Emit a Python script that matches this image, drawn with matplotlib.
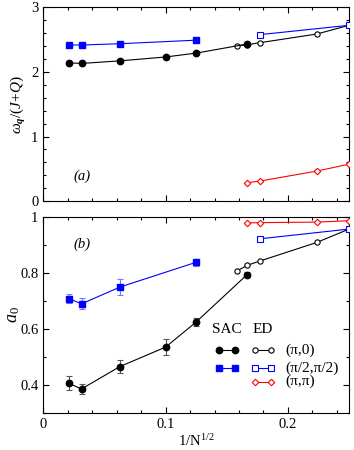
import matplotlib
matplotlib.use("Agg")
import matplotlib.pyplot as plt
from matplotlib.ticker import MultipleLocator
import numpy as np

plt.rcParams['font.family'] = ['Liberation Serif', 'DejaVu Serif']
plt.rcParams['mathtext.fontset'] = 'custom'
plt.rcParams['mathtext.rm'] = 'Liberation Serif'
plt.rcParams['mathtext.it'] = 'Liberation Serif:italic'
plt.rcParams['mathtext.bf'] = 'Liberation Serif:bold:italic'

# ---------------- data ----------------
x_sac = [1/48, 1/32, 1/16, 1/10, 1/8, 1/6]
x_sac_b = [1/48, 1/32, 1/16, 1/8]
x_ed = [1/np.sqrt(40), 1/6, 1/np.sqrt(32), 1/np.sqrt(20), 1/4]
x_ed_b = [1/np.sqrt(32), 1/4]
x_ed_r = [1/6, 1/np.sqrt(32), 1/np.sqrt(20), 1/4]

# panel (a): omega_q/(J+Q)
w_sac_pi0 = [2.14, 2.13, 2.17, 2.23, 2.29, 2.43]
w_sac_pi2 = [2.415, 2.415, 2.435, 2.49]
w_ed_pi0 = [2.40, 2.42, 2.45, 2.585, 2.72]
w_ed_pi2 = [2.575, 2.72]
w_ed_pipi = [0.285, 0.31, 0.465, 0.572]

# panel (b): a_0
a_sac_pi0 = [0.405, 0.385, 0.465, 0.535, 0.625, 0.795]
a_sac_pi0_err = [0.025, 0.018, 0.024, 0.028, 0.015, 0.01]
a_sac_pi2 = [0.709, 0.690, 0.750, 0.839]
a_sac_pi2_err = [0.016, 0.02, 0.028, 0.012]
a_ed_pi0 = [0.807, 0.828, 0.843, 0.910, 0.958]
a_ed_pi2 = [0.923, 0.958]
a_ed_pipi = [0.980, 0.981, 0.983, 0.988]

legend_labels = ['(π,0)', '(π/2,π/2)', '(π,π)']

BLUE = '#0000ff'
RED = '#ff0000'
fs = 10.5

fig = plt.figure(figsize=(3.54, 4.5), dpi=100)
ax1 = fig.add_axes([0.1225, 0.553, 0.8635, 0.431])
ax2 = fig.add_axes([0.1225, 0.083, 0.8635, 0.434])

lw = 0.8
ms_f = 4.6
ms_o = 3.8

# top panel
ax1.plot(x_ed, w_ed_pi0, '-o', color='black', mfc='white', mec='black', ms=ms_o, lw=lw, mew=0.8, zorder=3)
ax1.plot(x_ed_b, w_ed_pi2, '-s', color=BLUE, mfc='white', mec=BLUE, ms=ms_o, lw=lw, mew=0.8, zorder=3)
ax1.plot(x_ed_r, w_ed_pipi, '-D', color=RED, mfc='white', mec=RED, ms=3.3, lw=lw, mew=0.8, zorder=3)
ax1.plot(x_sac, w_sac_pi0, '-o', color='black', ms=ms_f, lw=lw, zorder=4)
ax1.plot(x_sac_b, w_sac_pi2, '-s', color=BLUE, ms=ms_f - 0.4, lw=lw, zorder=4)

# bottom panel
ax2.plot(x_ed, a_ed_pi0, '-o', color='black', mfc='white', mec='black', ms=ms_o, lw=lw, mew=0.8, zorder=3)
ax2.plot(x_ed_b, a_ed_pi2, '-s', color=BLUE, mfc='white', mec=BLUE, ms=ms_o, lw=lw, mew=0.8, zorder=3)
ax2.plot(x_ed_r, a_ed_pipi, '-D', color=RED, mfc='white', mec=RED, ms=3.3, lw=lw, mew=0.8, zorder=3)
ax2.errorbar(x_sac, a_sac_pi0, yerr=a_sac_pi0_err, fmt='-o', color='black', ms=ms_f, lw=lw,
             ecolor='#555555', elinewidth=0.8, capsize=2.5, capthick=0.8, zorder=4)
ax2.errorbar(x_sac_b, a_sac_pi2, yerr=a_sac_pi2_err, fmt='-s', color=BLUE, ms=ms_f - 0.4, lw=lw,
             ecolor='#7777ff', elinewidth=0.8, capsize=2.5, capthick=0.8, zorder=4)

for ax in (ax1, ax2):
    ax.set_xlim(0, 0.25)
    ax.xaxis.set_major_locator(MultipleLocator(0.1))
    ax.xaxis.set_minor_locator(MultipleLocator(0.02))
    ax.tick_params(which='both', direction='in', top=True, right=True, labelsize=fs, width=0.8)
    ax.tick_params(which='major', length=4.5)
    ax.tick_params(which='minor', length=2.5)
    for s in ax.spines.values():
        s.set_linewidth(0.8)

ax1.set_ylim(0, 3)
ax1.yaxis.set_major_locator(MultipleLocator(1))
ax1.yaxis.set_minor_locator(MultipleLocator(0.2))
ax1.tick_params(labelbottom=False)
ax1.set_ylabel(r'$\omega_{\mathbf{q}}/(J\!+\!Q)$', fontsize=fs + 0.5, labelpad=2)
ax1.text(0.126, 0.127, '(a)', transform=ax1.transAxes, fontsize=fs, style='italic', ha='center', va='center')

ax2.set_ylim(0.3, 1.0)
ax2.yaxis.set_major_locator(MultipleLocator(0.2))
ax2.yaxis.set_minor_locator(MultipleLocator(0.1))
ax2.set_yticks([0.4, 0.6, 0.8, 1.0])
ax2.set_yticklabels(['0.4', '0.6', '0.8', '1'])
ax2.set_xticks([0, 0.1, 0.2])
ax2.set_xticklabels(['0', '0.1', '0.2'])
ax2.set_ylabel(r'$a_0$', fontsize=fs + 2.5, labelpad=-1)
ax2.set_xlabel(r'$\mathit{1/}\mathrm{N}^{\mathit{1/2}}$', fontsize=fs, labelpad=2)
ax2.text(0.126, 0.863, '(b)', transform=ax2.transAxes, fontsize=fs, style='italic', ha='center', va='center')

# legend (manual, in axes coordinates)
tr = ax2.transAxes
ax2.text(0.601, 0.428, 'SAC', transform=tr, fontsize=fs + 0.5, ha='center', va='center')
ax2.text(0.719, 0.428, 'ED', transform=tr, fontsize=fs + 0.5, ha='center', va='center')
rows_y = [0.321, 0.227, 0.159]
ax2.plot([0.575, 0.627], [rows_y[0]] * 2, '-o', color='black', ms=ms_f, lw=lw, transform=tr, clip_on=False)
ax2.plot([0.575, 0.627], [rows_y[1]] * 2, '-s', color=BLUE, ms=ms_f - 0.4, lw=lw, transform=tr, clip_on=False)
ax2.plot([0.693, 0.745], [rows_y[0]] * 2, '-o', color='black', mfc='white', ms=ms_o, lw=lw, mew=0.8, transform=tr, clip_on=False)
ax2.plot([0.693, 0.745], [rows_y[1]] * 2, '-s', color=BLUE, mfc='white', ms=ms_o, lw=lw, mew=0.8, transform=tr, clip_on=False)
ax2.plot([0.693, 0.745], [rows_y[2]] * 2, '-D', color=RED, mfc='white', ms=3.3, lw=lw, mew=0.8, transform=tr, clip_on=False)
for y, lab in zip(rows_y, legend_labels):
    ax2.text(0.792, y, lab, transform=tr, fontsize=fs + 0.5, ha='left', va='center')

fig.savefig('out.png', dpi=100)
